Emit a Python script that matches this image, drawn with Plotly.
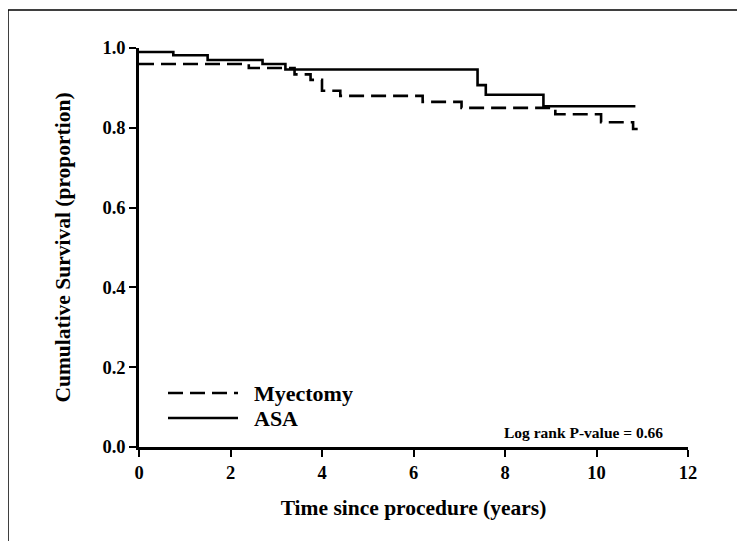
import plotly.graph_objects as go

# Kaplan-Meier step data
asa_time = [0, 0.75, 1.5, 2.7, 3.2, 7.40, 7.58, 8.84, 10.85]
asa_surv = [0.99, 0.982, 0.97, 0.96, 0.946, 0.907, 0.883, 0.854, 0.854]

myo_time = [0, 2.4, 3.4, 3.75, 4.0, 4.4, 6.2, 7.05, 9.1, 10.1, 10.8, 10.9]
myo_surv = [0.96, 0.95, 0.934, 0.92, 0.893, 0.88, 0.865, 0.85, 0.834, 0.814, 0.797, 0.797]

x_ticks = [0, 2, 4, 6, 8, 10, 12]
y_ticks = [0.0, 0.2, 0.4, 0.6, 0.8, 1.0]
y_tick_text = ["0.0", "0.2", "0.4", "0.6", "0.8", "1.0"]

FONT = "Liberation Serif"
TICKFONT = dict(family=FONT, size=18.5, color="black", weight="bold")

fig = go.Figure()
fig.add_trace(go.Scatter(x=myo_time, y=myo_surv, mode="lines", name="Myectomy",
                         line=dict(color="black", width=2.6, dash="15px,7px", shape="hv"),
                         showlegend=False, cliponaxis=False))
fig.add_trace(go.Scatter(x=asa_time, y=asa_surv, mode="lines", name="ASA",
                         line=dict(color="black", width=2.6, shape="hv"),
                         showlegend=False, cliponaxis=False))

axis_common = dict(showgrid=False, zeroline=False, showline=True, linecolor="black",
                   linewidth=2.5, ticks="outside", tickcolor="black", tickwidth=2,
                   ticklen=7)

fig.update_xaxes(range=[0, 12], tickvals=x_ticks,
                 ticktext=[str(t) for t in x_ticks], tickfont=TICKFONT, **axis_common,
                 title=dict(text="Time since procedure (years)",
                            font=dict(family=FONT, size=21.5, color="black", weight="bold"),
                            standoff=18))
fig.update_yaxes(range=[0, 1.0], tickvals=y_ticks,
                 ticktext=y_tick_text, tickfont=TICKFONT, **axis_common,
                 title=dict(text="Cumulative Survival (proportion)",
                            font=dict(family=FONT, size=21.5, color="black", weight="bold"),
                            standoff=26))

# page has an 8px body offset in the screenshot
OFF = 8
W, H = 745, 541
L, R, T, B = 139 - OFF, 745 - 688 + OFF, 48 - OFF, 541 - 447 + OFF
pw, ph = W - L - R, H - T - B

def px2paper_x(px):
    return (px - OFF - L) / pw

def px2paper_y(py):
    return (H - B - (py - OFF)) / ph

shapes = [
    # outer frame
    dict(type="rect", xref="paper", yref="paper",
         x0=px2paper_x(8), x1=px2paper_x(770), y0=px2paper_y(570), y1=px2paper_y(10),
         line=dict(color="black", width=1.5)),
    # legend samples
    dict(type="line", xref="paper", yref="paper",
         x0=px2paper_x(168), x1=px2paper_x(238), y0=px2paper_y(393), y1=px2paper_y(393),
         line=dict(color="black", width=2.6, dash="15px,7px")),
    dict(type="line", xref="paper", yref="paper",
         x0=px2paper_x(168), x1=px2paper_x(238), y0=px2paper_y(418), y1=px2paper_y(418),
         line=dict(color="black", width=2.6)),
]

annotations = [
    dict(text="Myectomy", xref="paper", yref="paper", x=px2paper_x(252), y=px2paper_y(393),
         xanchor="left", yanchor="middle", showarrow=False,
         font=dict(family=FONT, size=22, color="black", weight="bold")),
    dict(text="ASA", xref="paper", yref="paper", x=px2paper_x(252), y=px2paper_y(418),
         xanchor="left", yanchor="middle", showarrow=False,
         font=dict(family=FONT, size=22, color="black", weight="bold")),
    dict(text="Log rank P-value = 0.66", xref="paper", yref="paper",
         x=px2paper_x(583), y=px2paper_y(432), xanchor="center", yanchor="middle",
         showarrow=False, font=dict(family=FONT, size=15.5, color="black", weight="bold")),
]

fig.update_layout(width=W, height=H, margin=dict(l=L, r=R, t=T, b=B),
                  plot_bgcolor="white", paper_bgcolor="white",
                  shapes=shapes, annotations=annotations, showlegend=False)

fig.write_html("out.html")
